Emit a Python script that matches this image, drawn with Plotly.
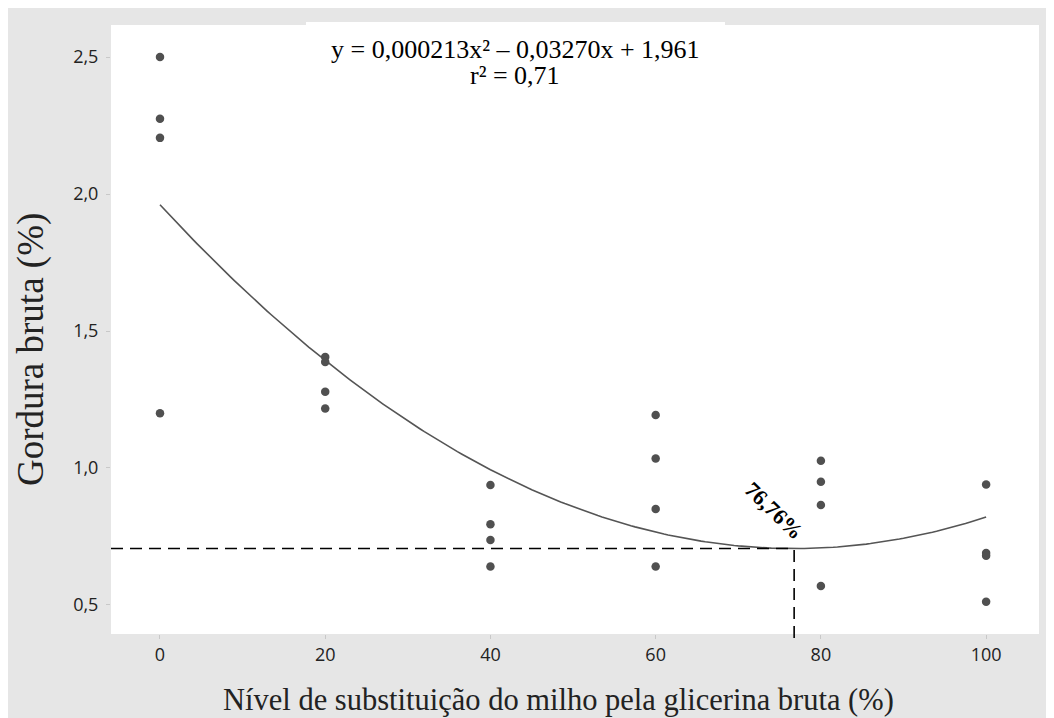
import numpy as np
import plotly.graph_objects as go

# ---- data ----
x_levels = [0, 0, 0, 0,
            20, 20, 20, 20,
            40, 40, 40, 40,
            60, 60, 60, 60,
            80, 80, 80, 80,
            100, 100, 100, 100]
fat_values = [2.50, 2.275, 2.205, 1.20,
              1.405, 1.387, 1.278, 1.217,
              0.938, 0.795, 0.737, 0.640,
              1.193, 1.035, 0.850, 0.640,
              1.026, 0.950, 0.865, 0.569,
              0.940, 0.690, 0.680, 0.512]
coef_a = 0.000213
coef_b = -0.03270
coef_c = 1.961
x_ticks = [0, 20, 40, 60, 80, 100]
x_ticklabels = ["0", "20", "40", "60", "80", "100"]
y_ticks = [0.5, 1.0, 1.5, 2.0, 2.5]
y_ticklabels = ["0,5", "1,0", "1,5", "2,0", "2,5"]
equation_text = "y = 0,000213x² – 0,03270x + 1,961"
r2_text = "r² = 0,71"
optimum_label = "76,76%"
x_title = "Nível de substituição do milho pela glicerina bruta (%)"
y_title = "Gordura bruta (%)"

# ---- fitted curve ----
xc = np.linspace(0, 100, 201)
yc = coef_a * xc**2 + coef_b * xc + coef_c
x_opt = -coef_b / (2 * coef_a)
y_opt = coef_a * x_opt**2 + coef_b * x_opt + coef_c

W, H = 1054, 718
ML, MR, MT, MB = 103, 23, 17, 92
pw, ph = W - ML - MR, H - MT - MB
def px_x(p):
    return (p - ML) / pw
def px_y(p):
    return (H - MB - p) / ph

x_range = [-5.93, 106.4]
y_range = [0.394, 2.617]

fig = go.Figure()
fig.add_trace(go.Scatter(x=xc, y=yc, mode="lines",
                         line=dict(color="#555555", width=1.6),
                         hoverinfo="skip", showlegend=False))
fig.add_trace(go.Scatter(x=x_levels, y=fat_values, mode="markers",
                         marker=dict(color="#505050", size=8.5),
                         showlegend=False))

shapes = [
    # white equation box
    dict(type="rect", xref="paper", yref="paper", layer="below",
         x0=px_x(298), x1=px_x(717), y0=px_y(MT + 3), y1=px_y(14),
         fillcolor="white", line=dict(width=0)),
    # dashed horizontal line
    dict(type="line", xref="x", yref="y",
         x0=x_range[0], x1=x_opt, y0=y_opt, y1=y_opt,
         line=dict(color="black", width=1.6, dash="12px,7px")),
    # dashed vertical line
    dict(type="line", xref="x", yref="paper",
         x0=x_opt, x1=x_opt, y0=px_y(630),
         y1=(y_opt - y_range[0]) / (y_range[1] - y_range[0]),
         line=dict(color="black", width=1.6, dash="12px,7px")),
]

serif = "Liberation Serif, Times New Roman, serif"
annotations = [
    dict(text=equation_text, xref="paper", yref="paper",
         x=px_x(507), y=px_y(42), xanchor="center", yanchor="middle",
         showarrow=False, font=dict(family=serif, size=26, color="black")),
    dict(text=r2_text, xref="paper", yref="paper",
         x=px_x(507), y=px_y(67), xanchor="center", yanchor="middle",
         showarrow=False, font=dict(family=serif, size=26, color="black")),
    dict(text="<b>" + optimum_label + "</b>", xref="x", yref="y",
         x=74.3, y=0.843, textangle=44, showarrow=False,
         font=dict(family=serif, size=22, color="black")),
    dict(text=x_title, xref="paper", yref="paper",
         x=px_x(550), y=px_y(692), xanchor="center", yanchor="middle",
         showarrow=False, font=dict(family=serif, size=30.5, color="#222222")),
    dict(text=y_title, xref="paper", yref="paper",
         x=px_x(23), y=px_y(342), xanchor="center", yanchor="middle",
         textangle=-90, showarrow=False,
         font=dict(family=serif, size=37, color="#222222")),
]

tickfont = dict(family="Open Sans, Noto Sans, sans-serif", size=18, color="#222222")
fig.update_layout(
    width=W, height=H,
    margin=dict(l=ML, r=MR, t=MT, b=MB),
    paper_bgcolor="#e6e6e6", plot_bgcolor="white",
    shapes=shapes, annotations=annotations,
    xaxis=dict(range=x_range, tickvals=x_ticks, ticktext=x_ticklabels,
               showgrid=False, zeroline=False, showline=False,
               ticks="outside", ticklen=4, tickcolor="#c8c8c8",
               tickfont=tickfont),
    yaxis=dict(range=y_range, tickvals=y_ticks, ticktext=y_ticklabels,
               showgrid=False, zeroline=False, showline=False,
               ticks="outside", ticklen=4, tickcolor="#c8c8c8",
               ticklabelstandoff=4, tickfont=tickfont),
)

fig.write_html("out.html")
